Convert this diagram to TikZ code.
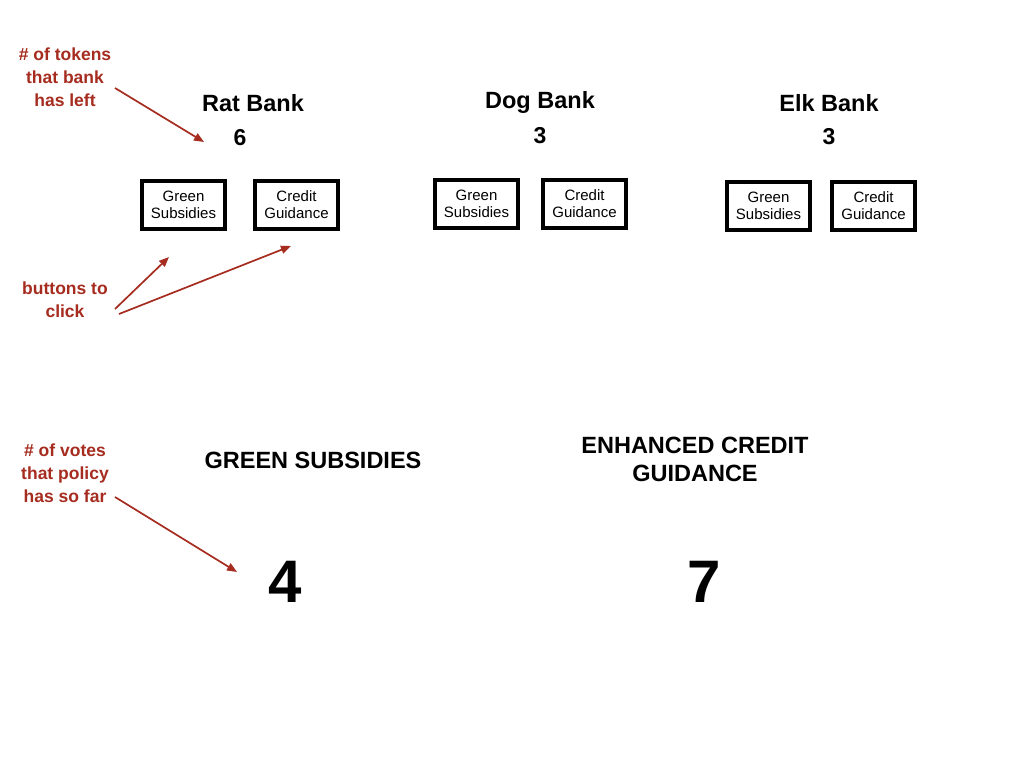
\documentclass[tikz,border=0pt]{standalone}
\usepackage{fontspec}
\setmainfont{Liberation Sans}
\usetikzlibrary{arrows.meta}
\definecolor{annot}{RGB}{166,44,31}
\begin{document}
\begin{tikzpicture}[x=1pt,y=-1pt,
  bankname/.style={font=\bfseries\fontsize{23.5}{26}\selectfont, inner sep=0pt},
  tokens/.style={font=\bfseries\fontsize{23}{26}\selectfont, inner sep=0pt},
  btn/.style={draw=black, line width=4pt, minimum width=83pt, minimum height=48pt, inner sep=0pt, align=center, font=\fontsize{15}{17}\selectfont},
  note/.style={text=annot, font=\bfseries\fontsize{17.5}{23}\selectfont, align=center, inner sep=0pt},
  pointer/.style={draw=annot, line width=1.7pt, -{Triangle[length=10pt,width=8pt]}},
  policy/.style={font=\bfseries\fontsize{23.5}{28}\selectfont, align=center, inner sep=0pt},
  votes/.style={font=\bfseries\fontsize{60}{60}\selectfont, inner sep=0pt}]
\useasboundingbox[fill=white] (0,0) rectangle (1024,768);

% Banks
\node[bankname] (rat) at (253,103) {Rat Bank};
\node[tokens] (ratn) at (240,138) {6};
\node[bankname] (dog) at (540,102) {Dog Bank};
\node[tokens] (dogn) at (540,136) {3};
\node[bankname] (elk) at (829,103) {Elk Bank};
\node[tokens] (elkn) at (829,137) {3};

% Buttons
\node[btn] (ratg) at (183.5,205) {Green\\Subsidies};
\node[btn] (ratc) at (296.5,205) {Credit\\Guidance};
\node[btn] (dogg) at (476.5,204) {Green\\Subsidies};
\node[btn] (dogc) at (584.5,204) {Credit\\Guidance};
\node[btn] (elkg) at (768.5,206) {Green\\Subsidies};
\node[btn] (elkc) at (873.5,206) {Credit\\Guidance};

% Policies
\node[policy] (gs) at (313,460) {GREEN SUBSIDIES};
\node[policy] (ecg) at (695,459) {ENHANCED CREDIT\\GUIDANCE};
\node[votes] (gsv) at (285,582) {4};
\node[votes] (ecgv) at (704,582) {7};

% Annotations
\node[note] (ntok) at (65,77) {\# of tokens\\that bank\\has left};
\node[note] (nbtn) at (65,300) {buttons to\\click};
\node[note] (nvot) at (65,473) {\# of votes\\that policy\\has so far};

\coordinate (tokS) at (115,88);
\coordinate (tokE) at (204,142);
\coordinate (btnS1) at (115,309);
\coordinate (btnE1) at (169,257);
\coordinate (btnS2) at (119,314);
\coordinate (btnE2) at (291,246);
\coordinate (votS) at (115,497);
\coordinate (votE) at (237,572);

\draw[pointer] (tokS) -- (tokE);
\draw[pointer] (btnS1) -- (btnE1);
\draw[pointer] (btnS2) -- (btnE2);
\draw[pointer] (votS) -- (votE);
\end{tikzpicture}
\end{document}
